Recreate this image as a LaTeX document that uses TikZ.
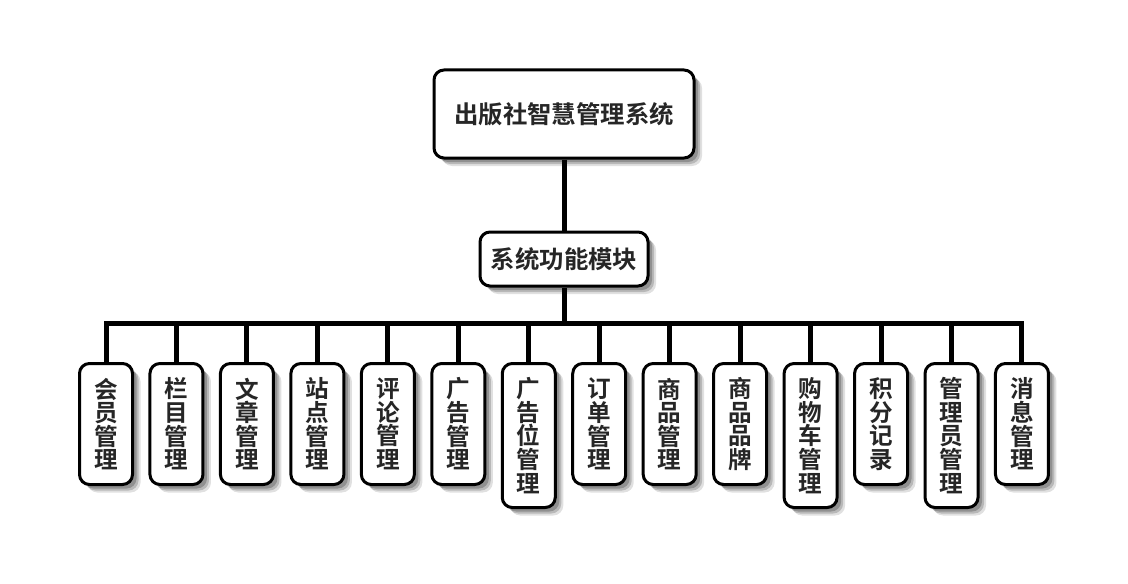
\documentclass[tikz,border=0pt]{standalone}
\usepackage{fontspec}
\newfontfamily\cjk{Noto Sans CJK SC}[BoldFont={Noto Sans CJK SC Bold}]
\usetikzlibrary{shadows}

\tikzset{
  box/.style={draw, line width=1.5pt, rounded corners=5pt, fill=white,
    font=\cjk\bfseries, text=black!85,
    drop shadow={shadow xshift=4pt, shadow yshift=-4pt, fill=black, opacity=.12},
    drop shadow={shadow xshift=3pt, shadow yshift=-3pt, fill=black, opacity=.18},
    drop shadow={shadow xshift=2pt, shadow yshift=-2pt, fill=black, opacity=.22}},
  link/.style={line width=2.5pt},
  module/.style={box, anchor=north, minimum width=26.5pt, inner xsep=2pt,
    align=center, font=\cjk\bfseries\fontsize{11.8}{11.8}\selectfont}
}

\begin{document}
\begin{tikzpicture}[x=0.5pt, y=0.5pt]
\useasboundingbox (0, 0) rectangle (1128, -583);
% top and middle boxes
\node[box, minimum width=130pt, minimum height=44pt,
  font=\cjk\bfseries\fontsize{12.2}{14}\selectfont] (sys) at (564, -114) {出版社智慧管理系统};
\node[box, minimum width=84pt, minimum height=27pt,
  font=\cjk\bfseries\fontsize{12.2}{14}\selectfont] (func) at (564, -259) {系统功能模块};
\coordinate (bus) at (564, -323);
% module boxes
\foreach \i/\txt/\h in {1/会\\员\\管\\理/60.5, 2/栏\\目\\管\\理/60.5,
  3/文\\章\\管\\理/60.5, 4/站\\点\\管\\理/60.5, 5/评\\论\\管\\理/60.5,
  6/广\\告\\管\\理/60.5, 7/广\\告\\位\\管\\理/72, 8/订\\单\\管\\理/60.5,
  9/商\\品\\管\\理/60.5, 10/商\\品\\品\\牌/60.5, 11/购\\物\\车\\管\\理/72,
  12/积\\分\\记\\录/60.5, 13/管\\理\\员\\管\\理/72, 14/消\\息\\管\\理/60.5}
  \node[module, minimum height=\h pt] (m\i) at ({106 + 70.46*(\i-1)}, -362) {\txt};
% connectors
\draw[link] (sys.south) -- (func.north);
\draw[link] (func.south) -- (bus);
\draw[link] (m1.north) -- (m1.north |- bus) -- (m14.north |- bus) -- (m14.north);
\foreach \i in {2,...,13}
  \draw[link] (m\i.north |- bus) -- (m\i.north);
\end{tikzpicture}
\end{document}
